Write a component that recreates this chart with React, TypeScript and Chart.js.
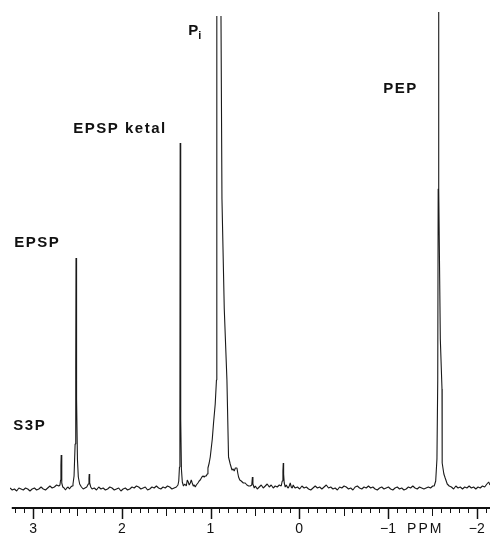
import React, { useEffect, useRef } from "react";
import { Chart, registerables } from "chart.js";

Chart.register(...registerables);

// chemical shift (ppm) vs. intensity (arbitrary units)
const leftRegion: [number, number | null][] = [
  [3.26, 1], [3.235, -1], [3.21, 0], [3.185, -2], [3.16, 1], [3.135, 0], [3.11, -1], [3.085, 1],
  [3.06, 0], [3.035, -2], [3.01, 0], [2.985, 1], [2.96, -1], [2.935, 0], [2.91, 2], [2.885, 0],
  [2.86, -1], [2.835, 1], [2.81, 3], [2.785, 1], [2.76, 2], [2.735, 4], [2.71, 3], [2.697, 4],
  [2.69, 9], [2.686, 24], [2.683, 34], [2.679, 20], [2.674, 6], [2.665, 2], [2.65, 1], [2.635, -1],
  [2.62, 1], [2.605, 2], [2.59, 0], [2.575, 2], [2.56, 3], [2.55, 5], [2.538, 13], [2.526, 45],
  [2.519, 120], [2.516, 231], [2.513, 160], [2.51, 215], [2.506, 90], [2.5, 30], [2.49, 12],
  [2.475, 5], [2.455, 2], [2.435, 0], [2.415, 1], [2.395, 2], [2.378, 5], [2.37, 11], [2.367, 15],
  [2.362, 6], [2.35, 2], [2.335, 0],
];

const ketalRegion: [number, number | null][] = [
  [2.31, 1], [2.285, -1], [2.26, 2], [2.235, 0], [2.21, 1], [2.185, -1], [2.16, 0], [2.135, 2],
  [2.11, 1], [2.085, -1], [2.06, 0], [2.035, 1], [2.01, -2], [1.985, 0], [1.96, 1], [1.935, -1],
  [1.91, 0], [1.885, 2], [1.86, 1], [1.835, 3], [1.81, 2], [1.785, 0], [1.76, 1], [1.735, 2],
  [1.71, -1], [1.685, 0], [1.66, 2], [1.635, 1], [1.61, 3], [1.585, 1], [1.56, 0], [1.535, 2],
  [1.51, 1], [1.485, 3], [1.46, 2], [1.435, 0], [1.41, 1], [1.385, 2], [1.367, 4], [1.358, 8],
  [1.35, 22], [1.345, 80], [1.342, 346], [1.338, 220], [1.334, 70], [1.328, 20], [1.318, 7],
  [1.305, 3], [1.29, 5], [1.273, 3], [1.262, 9], [1.251, 7], [1.24, 4], [1.228, 6], [1.217, 9],
  [1.206, 6], [1.194, 3], [1.183, 4], [1.172, 2],
];

const piRegion: [number, number | null][] = [
  [1.16, 4], [1.142, 6], [1.128, 8], [1.116, 9], [1.097, 12], [1.084, 13], [1.071, 12], [1.06, 13],
  [1.048, 13], [1.037, 15], [1.029, 21], [1.015, 26], [1.003, 32], [0.98, 50], [0.966, 66],
  [0.947, 85], [0.933, 109], [0.93, 250], [0.928, 473], [0.905, null], [0.882, 473], [0.871, 290],
  [0.845, 180], [0.815, 109], [0.797, 32], [0.778, 25], [0.758, 19], [0.745, 20], [0.733, 18],
  [0.72, 21], [0.702, 21], [0.693, 16], [0.684, 12], [0.67, 9], [0.654, 8], [0.63, 6], [0.609, 6],
  [0.59, 4], [0.57, 3], [0.552, 3], [0.535, 4], [0.528, 12], [0.522, 5], [0.507, 1],
];

const midRegion: [number, number | null][] = [
  [0.495, 3], [0.473, 0], [0.451, 2], [0.428, 4], [0.406, 1], [0.383, 3], [0.361, 5], [0.338, 2],
  [0.316, 4], [0.293, 1], [0.271, 3], [0.248, 2], [0.225, 4], [0.203, 3], [0.192, 8], [0.184, 18],
  [0.18, 26], [0.176, 15], [0.169, 6], [0.158, 2], [0.146, 4], [0.135, 2], [0.124, 1], [0.113, 3],
  [0.101, 6], [0.09, 2], [0.079, 1], [0.068, 4], [0.056, 2], [0.045, 1], [0.02, 2], [-0.005, 0],
  [-0.03, 3], [-0.055, 1], [-0.08, 2], [-0.105, 0], [-0.13, -1], [-0.155, 1], [-0.18, 3],
  [-0.205, 1], [-0.23, 2], [-0.255, 0], [-0.28, 2], [-0.305, 4], [-0.33, 1], [-0.355, 2],
  [-0.38, 0], [-0.405, 1], [-0.43, -1], [-0.455, 2], [-0.48, 1], [-0.505, 3], [-0.53, 2],
  [-0.555, 0], [-0.58, 1], [-0.605, -1], [-0.63, 2], [-0.655, 3], [-0.68, 1], [-0.705, 0],
  [-0.73, 2], [-0.755, 1], [-0.78, 3], [-0.805, 1], [-0.83, 2], [-0.855, 0], [-0.88, -1],
  [-0.905, 1], [-0.93, 2], [-0.955, 0], [-0.98, 1], [-1.005, 2], [-1.03, 0], [-1.055, -1],
  [-1.08, 1], [-1.105, 2], [-1.13, 0], [-1.155, 1], [-1.18, -1], [-1.205, 0], [-1.23, 2],
  [-1.255, 1], [-1.28, 3], [-1.305, 1], [-1.33, 0], [-1.355, 2], [-1.38, 1], [-1.405, 0],
  [-1.43, 1], [-1.455, 2], [-1.48, 1], [-1.505, 3],
];

const pepRegion: [number, number | null][] = [
  [-1.521, 3], [-1.538, 8], [-1.552, 30], [-1.561, 109], [-1.566, 300], [-1.569, 477],
  [-1.575, 300], [-1.59, 150], [-1.609, 100], [-1.611, 26], [-1.63, 15], [-1.645, 11],
  [-1.668, 5], [-1.69, 3],
];

const rightRegion: [number, number | null][] = [
  [-1.715, 2], [-1.74, 0], [-1.765, 3], [-1.79, 1], [-1.815, 2], [-1.84, 0], [-1.865, 2],
  [-1.89, 1], [-1.915, 3], [-1.94, 1], [-1.965, 2], [-1.99, 0], [-2.015, 2], [-2.04, 1],
  [-2.065, 3], [-2.09, 2], [-2.115, 5], [-2.135, 7], [-2.15, 4],
];

const tickValues = [3, 2, 1, 0, -1, -2];
const tickLabels = ["3", "2", "1", "0", "\u22121", "\u22122"];
const axisTitle = "PPM";
const axisTitlePpm = -1.42;

const peakLabels = [
  { text: "EPSP", ppm: 3.212, y: 242 },
  { text: "S3P", ppm: 3.223, y: 59 },
  { text: "EPSP ketal", ppm: 2.547, y: 356 },
  { text: "PEP", ppm: -0.947, y: 396 },
];
const piLabel = { main: "P", sub: "i", ppm: 1.251, y: 454 };

const spectrum = [
  ...leftRegion,
  ...ketalRegion,
  ...piRegion,
  ...midRegion,
  ...pepRegion,
  ...rightRegion,
];

const axisPlugin = {
  id: "nmrAxis",
  afterDraw(chart: any) {
    const { ctx } = chart;
    const xs = chart.scales.x;
    const ys = chart.scales.y;
    const axisY = ys.getPixelForValue(ys.min);
    ctx.save();
    ctx.strokeStyle = "#111";
    ctx.fillStyle = "#111";
    // axis line
    ctx.lineWidth = 2;
    ctx.beginPath();
    ctx.moveTo(xs.getPixelForValue(3.24), axisY);
    ctx.lineTo(xs.getPixelForValue(-2.15), axisY);
    ctx.stroke();
    // ticks
    for (let k = -21; k <= 32; k++) {
      const v = k / 10;
      const px = Math.round(xs.getPixelForValue(v)) + 0.5;
      const len = k % 10 === 0 ? 11 : k % 5 === 0 ? 8 : 5;
      ctx.lineWidth = k % 10 === 0 ? 1.5 : 1;
      ctx.beginPath();
      ctx.moveTo(px, axisY);
      ctx.lineTo(px, axisY + len);
      ctx.stroke();
    }
    // tick labels
    ctx.font = "14px 'Liberation Sans', Arial, sans-serif";
    ctx.textAlign = "center";
    ctx.textBaseline = "alphabetic";
    tickValues.forEach((v, i) => {
      ctx.fillText(tickLabels[i], xs.getPixelForValue(v), axisY + 25);
    });
    (ctx as any).letterSpacing = "2px";
    ctx.fillText(axisTitle, xs.getPixelForValue(axisTitlePpm), axisY + 25);

    // peak labels
    ctx.textAlign = "left";
    ctx.font = "bold 15px 'Liberation Sans', Arial, sans-serif";
    (ctx as any).letterSpacing = "1.5px";
    peakLabels.forEach((l) => {
      ctx.fillText(l.text, xs.getPixelForValue(l.ppm), ys.getPixelForValue(l.y));
    });
    const px = xs.getPixelForValue(piLabel.ppm);
    const py = ys.getPixelForValue(piLabel.y);
    (ctx as any).letterSpacing = "0px";
    ctx.fillText(piLabel.main, px, py);
    const w = ctx.measureText(piLabel.main).width;
    ctx.font = "bold 11px 'Liberation Sans', Arial, sans-serif";
    ctx.fillText(piLabel.sub, px + w, py + 4);
    ctx.restore();
  },
};

export default function App() {
  const canvasRef = useRef<HTMLCanvasElement | null>(null);

  useEffect(() => {
    if (!canvasRef.current) return;
    const chart = new Chart(canvasRef.current, {
      type: "line",
      data: {
        datasets: [
          {
            data: spectrum.map(([x, y]) => ({ x, y })),
            borderColor: "#1a1a1a",
            borderWidth: 1.1,
            borderJoinStyle: "bevel",
            pointRadius: 0,
            tension: 0,
            spanGaps: false,
            fill: false,
          },
        ],
      },
      options: {
        responsive: false,
        animation: false,
        layout: { padding: { left: 10, right: 1, top: 12, bottom: 30 } },
        plugins: { legend: { display: false }, tooltip: { enabled: false } },
        scales: {
          x: { type: "linear", min: -2.15, max: 3.26, reverse: true, display: false },
          y: { type: "linear", min: -19, max: 477, display: false },
        },
      },
      plugins: [axisPlugin],
    });
    return () => chart.destroy();
  }, []);

  return (
    <div style={{ position: "fixed", left: 0, top: 0, width: 491, height: 538, background: "#fff" }}>
      <canvas ref={canvasRef} width={491} height={538} style={{ display: "block" }} />
    </div>
  );
}
